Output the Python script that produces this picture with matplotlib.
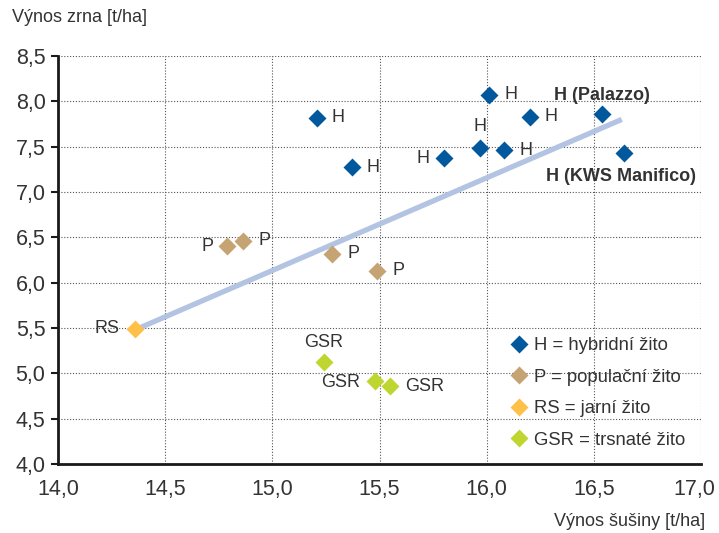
import matplotlib
matplotlib.use('Agg')
import matplotlib.pyplot as plt
from matplotlib.ticker import FuncFormatter, MultipleLocator
from matplotlib.transforms import ScaledTranslation

plt.rcParams['font.family'] = ['Liberation Sans', 'DejaVu Sans']

# data
h_x = [15.21, 15.37, 15.80, 15.97, 16.01, 16.08, 16.20, 16.54, 16.64]
h_y = [7.82, 7.27, 7.37, 7.49, 8.07, 7.46, 7.83, 7.86, 7.43]
h_labels = ['H', 'H', 'H', 'H', 'H', 'H', 'H', 'H (Palazzo)', 'H (KWS Manifico)']

p_x = [14.79, 14.865, 15.28, 15.49]
p_y = [6.40, 6.46, 6.32, 6.13]
p_labels = ['P', 'P', 'P', 'P']

rs_x = [14.36]
rs_y = [5.49]
rs_labels = ['RS']

gsr_x = [15.24, 15.48, 15.55]
gsr_y = [5.12, 4.91, 4.86]
gsr_labels = ['GSR', 'GSR', 'GSR']

trend_x = [14.36, 16.63]
trend_y = [5.48, 7.80]

x_ticks = [14.0, 14.5, 15.0, 15.5, 16.0, 16.5, 17.0]

legend_labels = ['H = hybridní žito', 'P = populační žito',
                 'RS = jarní žito', 'GSR = trsnaté žito']

# label placement (offset in points, ha)
h_pos = [(10, 0, 'left'), (11, 0, 'left'), (-10, 0, 'right'), (0, 15, 'center'),
         (11, 0, 'left'), (11, 0, 'left'), (11, 0, 'left'), (0, 13, 'center'),
         (-2, -17, 'center')]
p_pos = [(-10, 0, 'right'), (11, 0, 'left'), (11, 0, 'left'), (11, 0, 'left')]
rs_pos = [(-11, 0, 'right')]
gsr_pos = [(0, 14, 'center'), (-11, -1, 'right'), (11, 0, 'left')]

colors = ['#02589c', '#c6a372', '#ffc04a', '#bfd630']
text_color = '#333333'

fig = plt.figure(figsize=(7.19, 5.33), dpi=100)
ax = fig.add_axes([0.0807, 0.1295, 0.8943, 0.7655])

ax.plot(trend_x, trend_y, color='#b3c4e3', lw=3.8, solid_capstyle='butt', zorder=2)

groups = [(h_x, h_y, h_labels, h_pos), (p_x, p_y, p_labels, p_pos),
          (rs_x, rs_y, rs_labels, rs_pos), (gsr_x, gsr_y, gsr_labels, gsr_pos)]

for (xs, ys, labels, pos), c, name in zip(groups, colors, legend_labels):
    ax.plot(xs, ys, ls='none', marker='D', ms=9.5, color=c, mec='none',
            label=name, zorder=3)
    for x, y, t, (dx, dy, ha) in zip(xs, ys, labels, pos):
        bold = '(' in t
        ax.annotate(t, (x, y), xytext=(dx, dy), textcoords='offset points',
                    ha=ha, va='center', fontsize=13, color=text_color,
                    fontweight='bold' if bold else 'normal', zorder=4)

ax.set_xlim(14, 17)
ax.set_ylim(4, 8.5)
ax.yaxis.set_major_locator(MultipleLocator(0.5))
comma = FuncFormatter(lambda v, _: f'{v:.1f}'.replace('.', ','))
ax.yaxis.set_major_formatter(comma)
ax.set_xticks(x_ticks, [f'{v:.1f}'.replace('.', ',') for v in x_ticks])

ax.grid(True, ls=(0, (1, 1.6)), color='#555555', lw=0.8, zorder=0)
ax.set_axisbelow(True)

for s in ['top', 'right']:
    ax.spines[s].set_visible(False)
for s in ['left', 'bottom']:
    ax.spines[s].set_linewidth(2.0)
    ax.spines[s].set_color('#1a1a1a')

ax.tick_params(axis='y', direction='out', length=5, width=1.5, pad=4,
               labelsize=15.5, labelcolor=text_color, color='#1a1a1a')
ax.tick_params(axis='x', length=0, pad=11, labelsize=15.5, labelcolor=text_color)

# last x label sits a little left so it stays inside the figure
last = ax.get_xticklabels()[-1]
last.set_transform(last.get_transform() +
                   ScaledTranslation(-0.07, 0, fig.dpi_scale_trans))

fig.text(12 / 719, 1 - 18 / 533, 'Výnos zrna [t/ha]', fontsize=13,
         color=text_color, ha='left', va='center')
fig.text(705 / 719, 1 - 522 / 533, 'Výnos šušiny [t/ha]', fontsize=13,
         color=text_color, ha='right', va='center')

leg = ax.legend(loc='upper left', bbox_to_anchor=(0.703, 0.31), frameon=False,
                borderpad=0, borderaxespad=0, handlelength=1.0,
                handletextpad=0.3, labelspacing=0.78, fontsize=13.3)
for t in leg.get_texts():
    t.set_color(text_color)

fig.savefig('out.png', dpi=100)
